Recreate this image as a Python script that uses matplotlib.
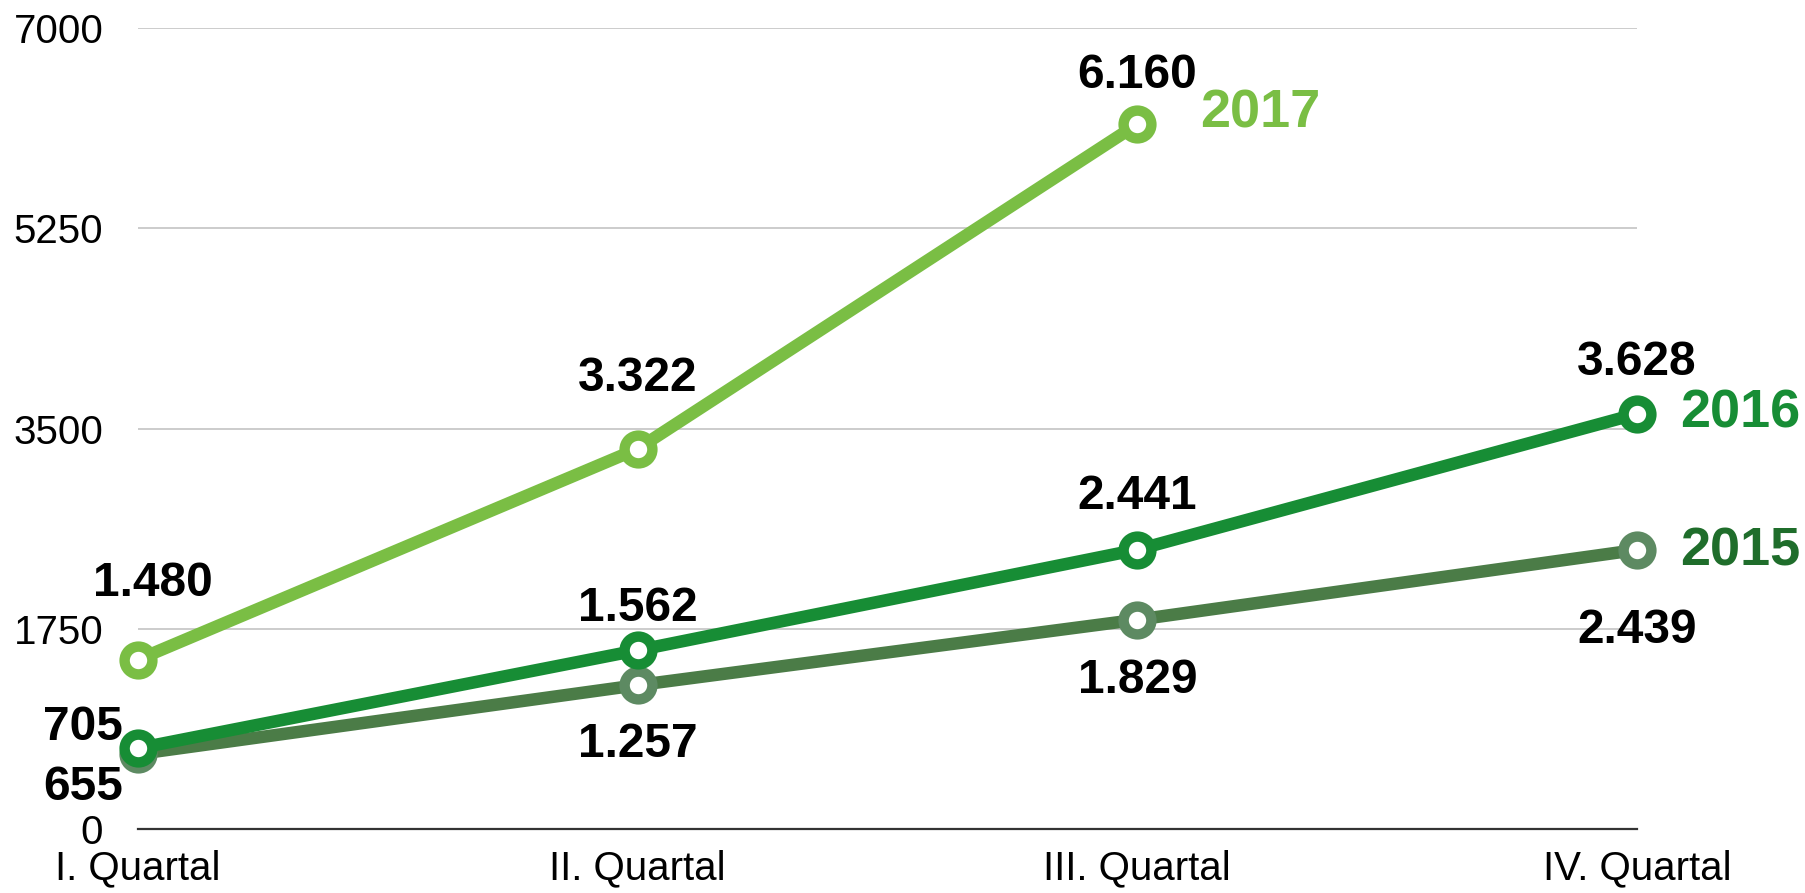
import matplotlib.pyplot as plt

# Quartalswerte je Jahr
quartale = ["I. Quartal", "II. Quartal", "III. Quartal", "IV. Quartal"]
werte_2015 = [655, 1257, 1829, 2439]
werte_2016 = [705, 1562, 2441, 3628]
werte_2017 = [1480, 3322, 6160]
y_ticks = [0, 1750, 3500, 5250, 7000]

farbe_2015 = "#4b7c47"
marker_2015 = "#5d8a62"
label_2015 = "#1f6d2b"
farbe_2016 = "#178d35"
farbe_2017 = "#7abe44"

plt.rcParams["font.family"] = ["Liberation Sans", "DejaVu Sans"]

fig = plt.figure(figsize=(18.06, 8.93), dpi=100)
ax = fig.add_axes([0.0764, 0.0717, 0.83, 0.8969])

lw = 9
ms = 20
mew = 7.5

ax.plot(range(4), werte_2015, color=farbe_2015, lw=lw, marker="o", ms=ms,
        mfc="white", mec=marker_2015, mew=mew, clip_on=False, zorder=3)
ax.plot(range(4), werte_2016, color=farbe_2016, lw=lw, marker="o", ms=ms,
        mfc="white", mec=farbe_2016, mew=mew, clip_on=False, zorder=4)
ax.plot(range(3), werte_2017, color=farbe_2017, lw=lw, marker="o", ms=ms,
        mfc="white", mec=farbe_2017, mew=mew, clip_on=False, zorder=5)

# Wertbeschriftungen (Versatz in Punkten)
def beschriften(x, wert, dx, dy, ha="center"):
    txt = f"{wert:,}".replace(",", ".")
    ax.annotate(txt, (x, wert), xytext=(dx, dy), textcoords="offset points",
                ha=ha, va="center", fontsize=34.5, fontweight="bold",
                color="black", annotation_clip=False, zorder=6)

offs_2017 = [(11, 55), (0, 51), (0, 35)]
offs_2016 = [(-11, 15), (0, 30), (0, 38), (0, 37)]
offs_2015 = [(-11, -24), (0, -43), (0, -44), (0, -58)]

for i, w in enumerate(werte_2017):
    beschriften(i, w, *offs_2017[i])
for i, w in enumerate(werte_2016):
    ha = "right" if i == 0 else "center"
    beschriften(i, w, *offs_2016[i], ha=ha)
for i, w in enumerate(werte_2015):
    ha = "right" if i == 0 else "center"
    beschriften(i, w, *offs_2015[i], ha=ha)

# Jahreszahlen am Linienende
for x, wert, jahr, farbe, dx, dy in [(2, werte_2017[-1], "2017", farbe_2017, 45, 8),
                                     (3, werte_2016[-1], "2016", farbe_2016, 31, 0),
                                     (3, werte_2015[-1], "2015", label_2015, 31, -1)]:
    ax.annotate(jahr, (x, wert), xytext=(dx, dy), textcoords="offset points",
                ha="left", va="center", fontsize=39, fontweight="bold",
                color=farbe, annotation_clip=False)

ax.set_xlim(0, 3)
ax.set_ylim(0, 7000)
ax.set_yticks(y_ticks)
ax.set_yticklabels([str(t) for t in y_ticks])
ax.set_xticks(range(4))
ax.set_xticklabels(quartale)
ax.tick_params(axis="y", length=0, pad=25, labelsize=29)
ax.tick_params(axis="x", length=0, pad=15, labelsize=29)

ax.grid(axis="y", color="#c4c4c4", lw=1.2)
ax.set_axisbelow(True)
for s in ["left", "right", "top"]:
    ax.spines[s].set_visible(False)
ax.spines["bottom"].set_color("#333333")
ax.spines["bottom"].set_linewidth(1.6)

fig.savefig("out.png", dpi=100)
